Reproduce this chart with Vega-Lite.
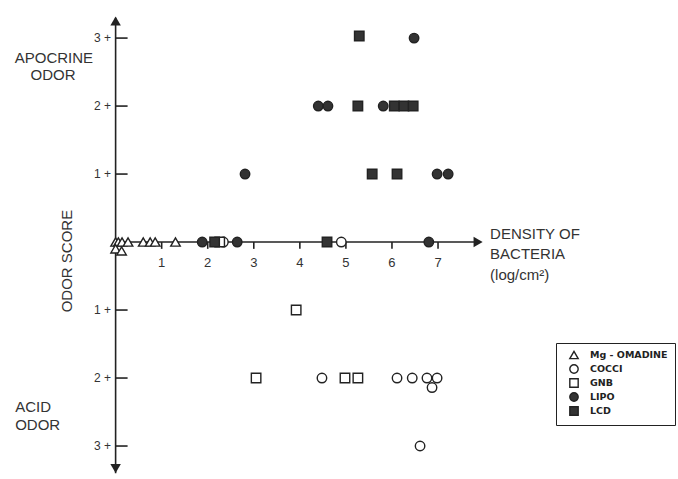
{
  "$schema": "https://vega.github.io/schema/vega-lite/v6.json",
  "width": 678,
  "height": 479,
  "padding": 0,
  "autosize": {"type": "fit", "contains": "padding"},
  "background": "white",
  "config": {
    "view": {"stroke": null},
    "legend": {
      "orient": "none", "legendX": 556, "legendY": 343,
      "strokeColor": "#222", "fillColor": "white", "padding": 7,
      "labelFont": "DejaVu Sans", "labelFontSize": 9.5, "labelFontWeight": "bold", "labelColor": "#222",
      "symbolStrokeWidth": 1.4, "symbolOffset": 6, "symbolSize": 70,
      "rowPadding": 0, "labelOffset": 11, "offset": 0
    }
  },
  "datasets": {
    "points": [
      {"x": 0.0, "y": 0, "group": "Mg - OMADINE"},
      {"x": 0.06, "y": 0, "group": "Mg - OMADINE"},
      {"x": 0.14, "y": 0, "group": "Mg - OMADINE"},
      {"x": 0.27, "y": 0, "group": "Mg - OMADINE"},
      {"x": 0.0, "y": -0.1, "group": "Mg - OMADINE"},
      {"x": 0.13, "y": -0.13, "group": "Mg - OMADINE"},
      {"x": 0.6, "y": 0, "group": "Mg - OMADINE"},
      {"x": 0.75, "y": 0, "group": "Mg - OMADINE"},
      {"x": 0.86, "y": 0, "group": "Mg - OMADINE"},
      {"x": 1.3, "y": 0, "group": "Mg - OMADINE"},
      {"x": 2.34, "y": 0, "group": "COCCI"},
      {"x": 4.9, "y": 0, "group": "COCCI"},
      {"x": 4.48, "y": -2, "group": "COCCI"},
      {"x": 6.11, "y": -2, "group": "COCCI"},
      {"x": 6.44, "y": -2, "group": "COCCI"},
      {"x": 6.76, "y": -2, "group": "COCCI"},
      {"x": 6.98, "y": -2, "group": "COCCI"},
      {"x": 6.87, "y": -2.14, "group": "COCCI"},
      {"x": 6.61, "y": -3, "group": "COCCI"},
      {"x": 2.26, "y": 0, "group": "GNB"},
      {"x": 3.92, "y": -1, "group": "GNB"},
      {"x": 3.05, "y": -2, "group": "GNB"},
      {"x": 4.98, "y": -2, "group": "GNB"},
      {"x": 5.26, "y": -2, "group": "GNB"},
      {"x": 2.81, "y": 1, "group": "LIPO"},
      {"x": 6.98, "y": 1, "group": "LIPO"},
      {"x": 7.22, "y": 1, "group": "LIPO"},
      {"x": 4.4, "y": 2, "group": "LIPO"},
      {"x": 4.61, "y": 2, "group": "LIPO"},
      {"x": 5.81, "y": 2, "group": "LIPO"},
      {"x": 6.48, "y": 3, "group": "LIPO"},
      {"x": 1.88, "y": 0, "group": "LIPO"},
      {"x": 2.64, "y": 0, "group": "LIPO"},
      {"x": 6.8, "y": 0, "group": "LIPO"},
      {"x": 5.29, "y": 3.03, "group": "LCD"},
      {"x": 5.26, "y": 2, "group": "LCD"},
      {"x": 6.05, "y": 2, "group": "LCD"},
      {"x": 6.26, "y": 2, "group": "LCD"},
      {"x": 6.46, "y": 2, "group": "LCD"},
      {"x": 5.57, "y": 1, "group": "LCD"},
      {"x": 6.11, "y": 1, "group": "LCD"},
      {"x": 2.15, "y": 0, "group": "LCD"},
      {"x": 4.59, "y": 0, "group": "LCD"}
    ],
    "lines": [
      {"x": 0, "y": 0, "x2": 7.9, "y2": 0},
      {"x": 0, "y": 3.3, "x2": 0, "y2": -3.4},
      {"x": 0, "y": 3, "x2": 0.26, "y2": 3},
      {"x": 0, "y": 2, "x2": 0.26, "y2": 2},
      {"x": 0, "y": 1, "x2": 0.26, "y2": 1},
      {"x": 0, "y": -1, "x2": 0.26, "y2": -1},
      {"x": 0, "y": -2, "x2": 0.26, "y2": -2},
      {"x": 0, "y": -3, "x2": 0.26, "y2": -3},
      {"x": 1, "y": 0, "x2": 1, "y2": -0.1},
      {"x": 2, "y": 0, "x2": 2, "y2": -0.1},
      {"x": 3, "y": 0, "x2": 3, "y2": -0.1},
      {"x": 4, "y": 0, "x2": 4, "y2": -0.1},
      {"x": 5, "y": 0, "x2": 5, "y2": -0.1},
      {"x": 6, "y": 0, "x2": 6, "y2": -0.1},
      {"x": 7, "y": 0, "x2": 7, "y2": -0.1}
    ],
    "arrowup": [{"x": 0, "y": 3.25}],
    "arrowdown": [{"x": 0, "y": -3.33}],
    "arrowright": [{"x": 7.87, "y": 0}],
    "ticklabels": [
      {"x": -0.1, "y": 3, "text": "3 +"},
      {"x": -0.1, "y": 2, "text": "2 +"},
      {"x": -0.1, "y": 1, "text": "1 +"},
      {"x": -0.1, "y": -1, "text": "1 +"},
      {"x": -0.1, "y": -2, "text": "2 +"},
      {"x": -0.1, "y": -3, "text": "3 +"}
    ],
    "xticklabels": [
      {"x": 1, "y": -0.31, "text": "1"},
      {"x": 2, "y": -0.31, "text": "2"},
      {"x": 3, "y": -0.31, "text": "3"},
      {"x": 4, "y": -0.31, "text": "4"},
      {"x": 5, "y": -0.31, "text": "5"},
      {"x": 6, "y": -0.31, "text": "6"},
      {"x": 7, "y": -0.31, "text": "7"}
    ],
    "centertitles": [
      {"x": -1.34, "y": 2.71, "text": "APOCRINE"},
      {"x": -1.36, "y": 2.46, "text": "ODOR"}
    ],
    "lefttitles": [
      {"x": -2.18, "y": -2.43, "text": "ACID"},
      {"x": -2.18, "y": -2.69, "text": "ODOR"},
      {"x": 8.13, "y": 0.12, "text": "DENSITY OF"},
      {"x": 8.13, "y": -0.18, "text": "BACTERIA"},
      {"x": 8.13, "y": -0.49, "text": "(log/cm²)"}
    ],
    "vtitle": [
      {"x": -1.06, "y": -0.28, "text": "ODOR SCORE"}
    ]
  },
  "encoding": {
    "x": {"type": "quantitative", "scale": {"domain": [-2.51, 12.21], "nice": false, "zero": false}, "axis": null},
    "y": {"type": "quantitative", "scale": {"domain": [-3.485, 3.56], "nice": false, "zero": false}, "axis": null}
  },
  "layer": [
    {
      "data": {"name": "lines"},
      "mark": {"type": "rule", "color": "#222", "strokeWidth": 1.6},
      "encoding": {
        "x": {"field": "x", "type": "quantitative"},
        "y": {"field": "y", "type": "quantitative"},
        "x2": {"field": "x2"},
        "y2": {"field": "y2"}
      }
    },
    {
      "data": {"name": "arrowup"},
      "mark": {"type": "point", "filled": true, "color": "#222", "size": 110, "opacity": 1, "shape": "triangle-up"},
      "encoding": {
        "x": {"field": "x", "type": "quantitative"},
        "y": {"field": "y", "type": "quantitative"}
      }
    },
    {
      "data": {"name": "arrowdown"},
      "mark": {"type": "point", "filled": true, "color": "#222", "size": 110, "opacity": 1, "shape": "triangle-down"},
      "encoding": {
        "x": {"field": "x", "type": "quantitative"},
        "y": {"field": "y", "type": "quantitative"}
      }
    },
    {
      "data": {"name": "arrowright"},
      "mark": {"type": "point", "filled": true, "color": "#222", "size": 110, "opacity": 1, "shape": "triangle-right"},
      "encoding": {
        "x": {"field": "x", "type": "quantitative"},
        "y": {"field": "y", "type": "quantitative"}
      }
    },
    {
      "data": {"name": "ticklabels"},
      "mark": {"type": "text", "align": "right", "baseline": "middle", "font": "Liberation Sans", "fontSize": 12, "color": "#333"},
      "encoding": {
        "x": {"field": "x", "type": "quantitative"},
        "y": {"field": "y", "type": "quantitative"},
        "text": {"field": "text"}
      }
    },
    {
      "data": {"name": "xticklabels"},
      "mark": {"type": "text", "align": "center", "baseline": "middle", "font": "Liberation Sans", "fontSize": 13, "color": "#333"},
      "encoding": {
        "x": {"field": "x", "type": "quantitative"},
        "y": {"field": "y", "type": "quantitative"},
        "text": {"field": "text"}
      }
    },
    {
      "data": {"name": "centertitles"},
      "mark": {"type": "text", "align": "center", "baseline": "middle", "font": "Liberation Sans", "fontSize": 15, "color": "#333"},
      "encoding": {
        "x": {"field": "x", "type": "quantitative"},
        "y": {"field": "y", "type": "quantitative"},
        "text": {"field": "text"}
      }
    },
    {
      "data": {"name": "lefttitles"},
      "mark": {"type": "text", "align": "left", "baseline": "middle", "font": "Liberation Sans", "fontSize": 15, "color": "#333"},
      "encoding": {
        "x": {"field": "x", "type": "quantitative"},
        "y": {"field": "y", "type": "quantitative"},
        "text": {"field": "text"}
      }
    },
    {
      "data": {"name": "vtitle"},
      "mark": {"type": "text", "align": "center", "baseline": "middle", "angle": 270, "font": "Liberation Sans", "fontSize": 15, "color": "#333"},
      "encoding": {
        "x": {"field": "x", "type": "quantitative"},
        "y": {"field": "y", "type": "quantitative"},
        "text": {"field": "text"}
      }
    },
    {
      "data": {"name": "points"},
      "mark": {"type": "point", "strokeWidth": 1.4, "opacity": 1, "size": 90},
      "encoding": {
        "x": {"field": "x", "type": "quantitative"},
        "y": {"field": "y", "type": "quantitative"},
        "shape": {
          "field": "group", "type": "nominal",
          "scale": {"domain": ["Mg - OMADINE", "COCCI", "GNB", "LIPO", "LCD"], "range": ["triangle-up", "circle", "square", "circle", "square"]},
          "title": null
        },
        "fill": {
          "field": "group", "type": "nominal",
          "scale": {"domain": ["Mg - OMADINE", "COCCI", "GNB", "LIPO", "LCD"], "range": ["white", "white", "white", "#333", "#333"]},
          "title": null
        },
        "stroke": {
          "field": "group", "type": "nominal",
          "scale": {"domain": ["Mg - OMADINE", "COCCI", "GNB", "LIPO", "LCD"], "range": ["#222", "#222", "#222", "#222", "#222"]},
          "title": null
        }
      }
    }
  ]
}
